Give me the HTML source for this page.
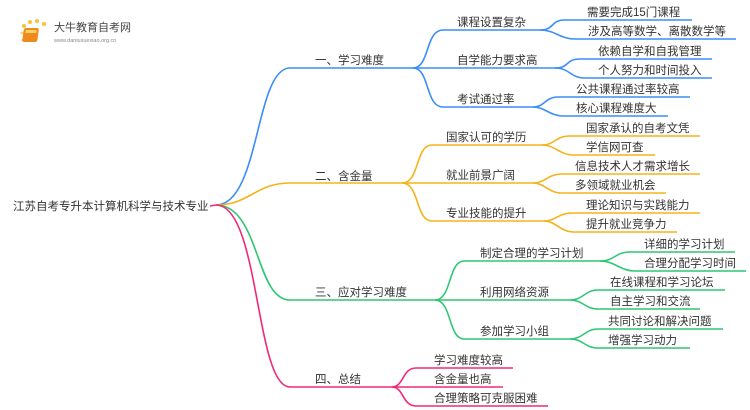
<!DOCTYPE html>
<html><head><meta charset="utf-8"><style>
html,body{margin:0;padding:0;background:#fff;width:750px;height:410px;overflow:hidden}
svg text{font-family:"Liberation Sans","Noto Sans CJK SC",sans-serif;fill:#333;font-size:11.5px}
</style></head><body>
<svg width="750" height="410" viewBox="0 0 750 410" xmlns="http://www.w3.org/2000/svg">
<g>
<circle cx="24" cy="26" r="2" fill="#f6c23a"/><circle cx="30" cy="22" r="2" fill="#f6c23a"/><circle cx="37" cy="21" r="2" fill="#f6c23a"/><circle cx="44" cy="24" r="2" fill="#f6c23a"/><circle cx="22" cy="33" r="1.5" fill="#f6d36a"/><circle cx="23" cy="40" r="1.5" fill="#f6d36a"/>
<rect x="28" y="28" width="15" height="14" rx="2" fill="#f08a1c" transform="skewX(-8)"/>
<rect x="30" y="30" width="11" height="3" fill="#fbd36b" transform="skewX(-8)"/>
<text x="54" y="31" style="font-size:11px;fill:#444">大牛教育自考网</text>
<text x="54" y="42" style="font-size:5.5px;fill:#888">www.daniuxuexiao.org.cn</text>
</g>
<g fill="none" stroke-width="1.6">
<path d="M210 206 L216 205" stroke="#f0287a"/>
<g stroke="#3a8ef6">
<path d="M216 205 C260 205 255 68 290 68 L415 68"/>
<path d="M413 68 C430 68 425 30 443 30 L540 30"/>
<path d="M413 68 L555 68"/>
<path d="M413 68 C430 68 425 107 443 107 L533 107"/>
<path d="M540 30 C555 30 550 20 565 20 L692 20"/>
<path d="M540 30 C555 30 560 39 575 39 L736 39"/>
<path d="M555 68 C570 68 565 59 580 59 L712 59"/>
<path d="M555 68 C570 68 570 78 585 78 L712 78"/>
<path d="M533 107 C545 107 545 97 558 97 L690 97"/>
<path d="M533 107 C545 107 550 116 563 116 L668 116"/>
</g>
<g stroke="#f5b31a">
<path d="M216 205 C250 205 255 183 290 183 L402 183"/>
<path d="M402 183 C420 183 415 145 432 145 L542 145"/>
<path d="M402 183 L533 183"/>
<path d="M402 183 C420 183 415 221 432 221 L544 221"/>
<path d="M542 145 C555 145 555 136 570 136 L700 136"/>
<path d="M542 145 C555 145 560 155 573 155 L655 155"/>
<path d="M533 183 C545 183 548 174 562 174 L700 174"/>
<path d="M533 183 C545 183 548 193 562 193 L666 193"/>
<path d="M544 221 C556 221 558 213 572 213 L700 213"/>
<path d="M544 221 C556 221 560 232 574 232 L677 232"/>
</g>
<g stroke="#2dc774">
<path d="M216 205 C260 205 255 300 290 300 L435 300"/>
<path d="M435 300 C452 300 448 261 464 261 L600 261"/>
<path d="M435 300 L570 300"/>
<path d="M435 300 C452 300 448 339 464 339 L570 339"/>
<path d="M600 261 C615 261 615 252 630 252 L735 252"/>
<path d="M600 261 C615 261 620 271 635 271 L746 271"/>
<path d="M570 300 C583 300 585 290 598 290 L725 290"/>
<path d="M570 300 C583 300 585 309 598 309 L700 309"/>
<path d="M570 339 C583 339 585 329 598 329 L723 329"/>
<path d="M570 339 C583 339 585 348 598 348 L690 348"/>
</g>
<g stroke="#f0287a">
<path d="M216 205 C260 205 255 387 290 387 L392 387"/>
<path d="M392 387 C404 387 402 368 416 368 L513 368"/>
<path d="M392 387 L503 387"/>
<path d="M392 387 C404 387 402 406 416 406 L548 406"/>
</g>
</g>
<text x="13" y="210">江苏自考专升本计算机科学与技术专业</text>
<text x="315" y="64">一、学习难度</text>
<text x="315" y="180">二、含金量</text>
<text x="315" y="296">三、应对学习难度</text>
<text x="315" y="383">四、总结</text>
<text x="457" y="26">课程设置复杂</text>
<text x="457" y="64">自学能力要求高</text>
<text x="457" y="103">考试通过率</text>
<text x="587" y="16">需要完成15门课程</text>
<text x="588" y="35">涉及高等数学、离散数学等</text>
<text x="598" y="55">依赖自学和自我管理</text>
<text x="598" y="74">个人努力和时间投入</text>
<text x="576" y="93">公共课程通过率较高</text>
<text x="576" y="112">核心课程难度大</text>
<text x="446" y="141">国家认可的学历</text>
<text x="446" y="179">就业前景广阔</text>
<text x="446" y="217">专业技能的提升</text>
<text x="586" y="132">国家承认的自考文凭</text>
<text x="586" y="151">学信网可查</text>
<text x="575" y="170">信息技术人才需求增长</text>
<text x="575" y="189">多领域就业机会</text>
<text x="586" y="209">理论知识与实践能力</text>
<text x="586" y="228">提升就业竞争力</text>
<text x="480" y="257">制定合理的学习计划</text>
<text x="480" y="296">利用网络资源</text>
<text x="480" y="335">参加学习小组</text>
<text x="644" y="248">详细的学习计划</text>
<text x="644" y="267">合理分配学习时间</text>
<text x="610" y="286">在线课程和学习论坛</text>
<text x="610" y="305">自主学习和交流</text>
<text x="608" y="325">共同讨论和解决问题</text>
<text x="608" y="344">增强学习动力</text>
<text x="434" y="364">学习难度较高</text>
<text x="434" y="383">含金量也高</text>
<text x="434" y="402">合理策略可克服困难</text>
</svg>
</body></html>
